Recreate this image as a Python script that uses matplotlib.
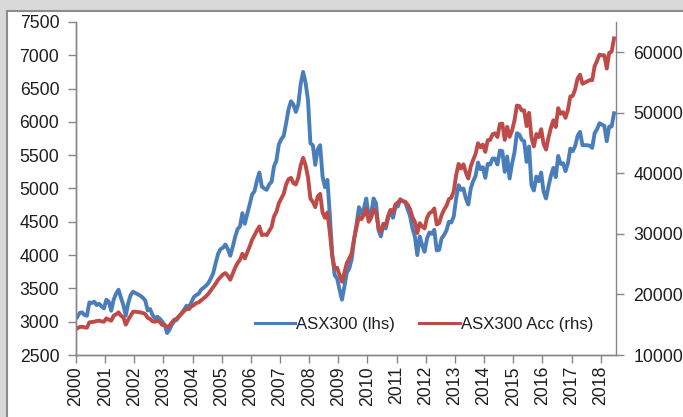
import matplotlib
matplotlib.use('Agg')
import matplotlib.pyplot as plt
import matplotlib.patches as patches
import numpy as np

plt.rcParams['font.family'] = ['Liberation Sans', 'DejaVu Sans']

# monthly closes, Jan 2000 - Jun 2018
asx300 = [
    3070, 3130, 3140, 3100, 3090, 3290, 3280, 3300, 3250, 3270, 3230, 3200,  # 2000
    3330, 3300, 3165, 3330, 3420, 3480, 3360, 3250, 3090, 3280, 3400, 3450,  # 2001
    3430, 3410, 3390, 3360, 3320, 3170, 3190, 3100, 3050, 3075, 3045, 3000,  # 2002
    2950, 2830, 2880, 2960, 3010, 3030, 3080, 3130, 3180, 3240, 3215, 3290,  # 2003
    3370, 3400, 3420, 3480, 3510, 3540, 3580, 3650, 3730, 3880, 4020, 4090,  # 2004
    4110, 4160, 4090, 3990, 4120, 4270, 4390, 4430, 4630, 4470, 4620, 4760,  # 2005
    4910, 4960, 5120, 5240, 5030, 5000, 4980, 5060, 5100, 5330, 5420, 5660,  # 2006
    5740, 5790, 5980, 6190, 6310, 6260, 6150, 6260, 6570, 6750, 6590, 6330,  # 2007
    5680, 5650, 5355, 5590, 5650, 5180, 5020, 5130, 4600, 4000, 3700, 3650,  # 2008
    3480, 3330, 3530, 3740, 3800, 3940, 4240, 4470, 4720, 4620, 4700, 4850,  # 2009
    4580, 4620, 4850, 4780, 4380, 4280, 4450, 4400, 4560, 4670, 4560, 4720,  # 2010
    4730, 4840, 4810, 4800, 4690, 4590, 4400, 4280, 4000, 4280, 4150, 4050,  # 2011
    4250, 4340, 4320, 4380, 4070, 4080, 4250, 4300, 4370, 4500, 4490, 4580,  # 2012
    4850, 5050, 4980, 5000, 4850, 4760, 5000, 5110, 5190, 5390, 5290, 5320,  # 2013
    5160, 5370, 5360, 5450, 5450, 5360, 5570, 5560, 5250, 5480, 5150, 5370,  # 2014
    5540, 5830, 5810, 5730, 5710, 5400, 5630, 5050, 4970, 5180, 5110, 5240,  # 2015
    4950, 4850, 5030, 5190, 5310, 5170, 5490, 5370, 5380, 5260, 5380, 5600,  # 2016
    5560, 5640, 5790, 5850, 5650, 5650, 5650, 5640, 5610, 5830, 5890, 5980,  # 2017
    5960, 5940, 5710, 5930, 5930, 6130,                                      # 2018
]

asx300_acc = [
    14400, 14620, 14675, 14565, 14510, 15390, 15445, 15500, 15610, 15665, 15555, 15500,
    16050, 15830, 15665, 16490, 16710, 17040, 16490, 16215, 15005, 15830, 16490, 17150,
    17150, 17095, 17040, 16930, 16765, 16160, 15940, 15555, 15500, 15665, 15445, 14970,
    14950, 14565, 14840, 15390, 15830, 15995, 16490, 16820, 17260, 17590, 17590, 18030,
    18250, 18580, 18690, 19020, 19350, 19680, 20120, 20670, 21220, 21770, 22430, 22870,
    23310, 23530, 23090, 22430, 23420, 24410, 25180, 25730, 26720, 25950, 26940, 27930,
    29030, 29800, 30570, 31230, 29800, 29910, 29800, 30460, 31120, 32880, 33650, 35080,
    35850, 36620, 38160, 39040, 39260, 38380, 38160, 39260, 41350, 42560, 41350, 39370,
    35850, 35300, 34420, 36180, 36620, 33540, 32660, 33540, 30240, 26280, 24300, 24410,
    23200, 22100, 23640, 25180, 25950, 26830, 29250, 31120, 32880, 32440, 33100, 34200,
    32000, 32660, 34090, 33650, 31120, 30350, 31670, 31450, 32990, 33980, 33540, 34860,
    35190, 35630, 35410, 35300, 34860, 34090, 32770, 32000, 30130, 31780, 31230, 30900,
    32660, 33430, 33650, 34200, 31560, 31780, 33100, 33980, 34640, 35740, 35960, 37060,
    39700, 41570, 40800, 41500, 40140, 39150, 41130, 42230, 43220, 44980, 44320, 44760,
    43550, 45470, 45540, 46460, 46620, 46010, 48150, 48220, 45530, 47690, 46030, 47060,
    48720, 51200, 51100, 50400, 50400, 47800, 50000, 45900, 44450, 46500, 46000, 47300,
    44850, 43920, 45890, 47510, 48770, 47650, 50770, 49840, 50110, 49170, 50460, 52700,
    52800, 53900, 55700, 56300, 54800, 55000, 55200, 55400, 55400, 57700, 58600, 59600,
    59500, 59500, 57300, 59900, 60100, 62300,
]

years = list(range(2000, 2019))

# months plotted mid-month on a decimal year axis
x = 2000 + (np.arange(len(asx300)) + 0.5) / 12

fig = plt.figure(figsize=(6.83, 4.17), dpi=100, facecolor='#d9d9d9')
# white chart area with its grey border (only top and left edges show)
fig.add_artist(patches.Rectangle((7 / 683, -0.05), 1.1, 1.05 - 11 / 417,
                                 transform=fig.transFigure, facecolor='white',
                                 edgecolor='#8c8c8c', lw=1.5, zorder=-10))

ax1 = fig.add_axes([76 / 683, 1 - 355 / 417, 540 / 683, 333 / 417])
ax2 = ax1.twinx()

blue = '#4a7ebb'
red = '#be4b48'
grey = '#868686'
txt = '#1e1e1e'

l1, = ax1.plot(x, asx300, color=blue, lw=2.8, label='ASX300 (lhs)')
l2, = ax2.plot(x, asx300_acc, color=red, lw=2.8, label='ASX300 Acc (rhs)')

ax1.set_xlim(2000, 2018.525)
ax1.set_ylim(2500, 7500)
ax2.set_ylim(10000, 65000)
ax1.set_yticks(np.arange(2500, 7501, 500))
ax2.set_yticks(np.arange(10000, 60001, 10000))
ax1.set_xticks(years)
ax1.set_xticklabels([str(y) for y in years], rotation=90)

for ax in (ax1, ax2):
    ax.patch.set_visible(False)
    ax.spines['top'].set_visible(False)
    for s in ('left', 'right', 'bottom'):
        ax.spines[s].set_color(grey)
        ax.spines[s].set_linewidth(1.0)
    ax.tick_params(colors=grey, labelcolor=txt, labelsize=12.7, length=5.5, width=1.0)

ax1.tick_params(axis='y', pad=6.5)
ax1.tick_params(axis='x', pad=2.5)
ax2.tick_params(axis='y', pad=7)
ax1.spines['right'].set_visible(False)

leg = ax2.legend(handles=[l1, l2], loc='center', bbox_to_anchor=(424 / 683, 1 - 324 / 417),
                 bbox_transform=fig.transFigure, ncol=2, frameon=False, fontsize=12.1,
                 handlelength=2.4, handletextpad=0.05, columnspacing=1.45, borderpad=0,
                 labelcolor=txt)
for h in leg.get_lines():
    h.set_linewidth(2.2)

fig.savefig('out.png', dpi=100, facecolor=fig.get_facecolor())
